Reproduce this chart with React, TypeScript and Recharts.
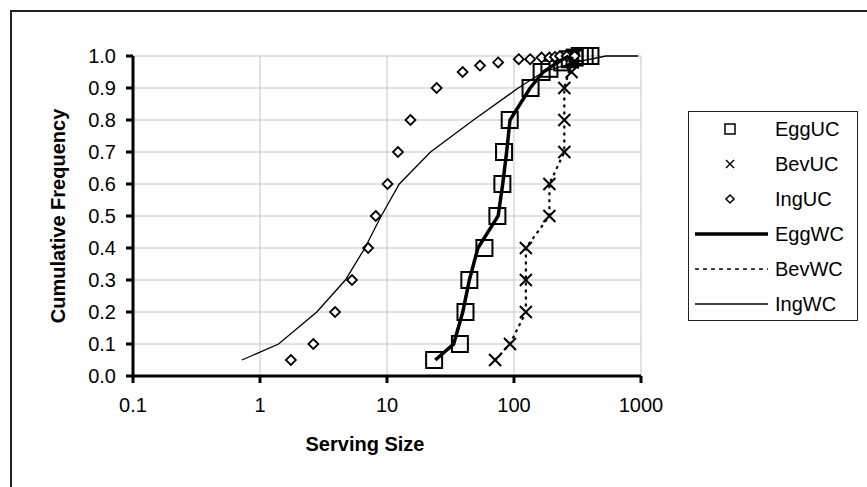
import React from 'react';
import { ScatterChart, Scatter, XAxis, YAxis, CartesianGrid, Legend } from 'recharts';

// cumulative frequency vs serving size
const eggUCx = [23.5, 37.5, 41.5, 44.5, 58.5, 74, 81, 83.5, 92.5, 135, 165, 190, 240, 275, 300, 330, 360, 400];
const eggUCy = [0.05, 0.1, 0.2, 0.3, 0.4, 0.5, 0.6, 0.7, 0.8, 0.9, 0.95, 0.96, 0.98, 0.99, 0.995, 1.0, 1.0, 1.0];

const bevUCx = [71, 93, 124, 124, 124, 190, 190, 249, 249, 249, 284, 290, 295, 300];
const bevUCy = [0.05, 0.1, 0.2, 0.3, 0.4, 0.5, 0.6, 0.7, 0.8, 0.9, 0.95, 0.98, 0.99, 1.0];

const ingUCx = [1.75, 2.63, 3.9, 5.3, 7.1, 8.15, 10.1, 12.2, 15.3, 24.6, 39.4, 54, 75, 109, 134, 165, 190, 210, 230, 260, 300];
const ingUCy = [0.05, 0.1, 0.2, 0.3, 0.4, 0.5, 0.6, 0.7, 0.8, 0.9, 0.95, 0.97, 0.98, 0.99, 0.99, 0.995, 0.995, 0.997, 1.0, 1.0, 1.0];

const eggWCx = [24, 33.5, 39.5, 44.5, 52, 75, 81.5, 87.5, 93, 134, 170, 220, 270];
const eggWCy = [0.05, 0.1, 0.2, 0.3, 0.4, 0.5, 0.6, 0.7, 0.8, 0.9, 0.95, 0.98, 1.0];

const bevWCx = [71, 93, 124, 124, 124, 190, 190, 249, 249, 249, 270, 290];
const bevWCy = [0.05, 0.1, 0.2, 0.3, 0.4, 0.5, 0.6, 0.7, 0.8, 0.9, 0.95, 1.0];

const ingWCx = [0.72, 1.4, 2.8, 4.7, 6.7, 9, 12.5, 22, 48, 108, 170, 300, 530, 950];
const ingWCy = [0.05, 0.1, 0.2, 0.3, 0.4, 0.5, 0.6, 0.7, 0.8, 0.9, 0.95, 0.98, 1.0, 1.0];

const xTicks = [0.1, 1, 10, 100, 1000];
const yTicks = [0, 0.1, 0.2, 0.3, 0.4, 0.5, 0.6, 0.7, 0.8, 0.9, 1.0];

const pts = (xs: number[], ys: number[]) => xs.map((x, i) => ({ x, y: ys[i] }));

const FONT = '"Liberation Sans", Arial, sans-serif';

const Square = ({ cx, cy, s = 16, w = 2 }: any) => (
  <rect x={cx - s / 2} y={cy - s / 2} width={s} height={s} fill="none" stroke="#000" strokeWidth={w} />
);
const Cross = ({ cx, cy, s = 12, w = 2 }: any) => (
  <g stroke="#000" strokeWidth={w}>
    <line x1={cx - s / 2} y1={cy - s / 2} x2={cx + s / 2} y2={cy + s / 2} />
    <line x1={cx - s / 2} y1={cy + s / 2} x2={cx + s / 2} y2={cy - s / 2} />
  </g>
);
const Diamond = ({ cx, cy, s = 10, w = 1.8 }: any) => (
  <polygon
    points={`${cx},${cy - s / 2} ${cx + s / 2},${cy} ${cx},${cy + s / 2} ${cx - s / 2},${cy}`}
    fill="#fff"
    stroke="#000"
    strokeWidth={w}
  />
);
const NoShape = () => <g />;

const legendItems = [
  { name: 'EggUC', kind: 'square' },
  { name: 'BevUC', kind: 'cross' },
  { name: 'IngUC', kind: 'diamond' },
  { name: 'EggWC', kind: 'line', width: 3.5, dash: undefined },
  { name: 'BevWC', kind: 'line', width: 1.5, dash: '4 4' },
  { name: 'IngWC', kind: 'line', width: 1.3, dash: undefined },
];

const renderLegend = () => (
  <svg width={170} height={210} style={{ display: 'block' }}>
    <rect x={0.5} y={0.5} width={169} height={209} fill="#fff" stroke="#222" strokeWidth={1} />
    {legendItems.map((it: any, i) => {
      const cy = 18 + i * 35;
      return (
        <g key={it.name}>
          {it.kind === 'square' && <Square cx={42} cy={cy} s={10} w={1.5} />}
          {it.kind === 'cross' && <Cross cx={42} cy={cy} s={8} w={1.5} />}
          {it.kind === 'diamond' && <Diamond cx={42} cy={cy} s={8} w={1.5} />}
          {it.kind === 'line' && (
            <line x1={7} y1={cy} x2={80} y2={cy} stroke="#000" strokeWidth={it.width} strokeDasharray={it.dash} />
          )}
          <text x={87} y={cy} dy="0.36em" fontSize={20} fontFamily={FONT} fill="#000">
            {it.name}
          </text>
        </g>
      );
    })}
  </svg>
);

export default function App() {
  return (
    <div style={{ position: 'absolute', left: 0, top: 0, width: 867, height: 487, background: '#fff' }}>
      {/* outer chart frame, only left and top edges show in the crop */}
      <div style={{ position: 'absolute', left: 10, top: 10, width: 857, height: 2, background: '#222' }} />
      <div style={{ position: 'absolute', left: 10, top: 10, width: 2, height: 477, background: '#222' }} />
      <ScatterChart
        width={867}
        height={487}
        margin={{ top: 56, right: 226, left: 43, bottom: 81 }}
        style={{ fontFamily: FONT }}
      >
        <CartesianGrid stroke="#c4c4c4" strokeWidth={1} />
        <XAxis
          type="number"
          dataKey="x"
          scale="log"
          domain={[0.1, 1000]}
          ticks={xTicks}
          tickFormatter={(v: number) => String(v)}
          tick={{ fontSize: 20, fill: '#000', fontFamily: FONT }}
          axisLine={{ stroke: '#000', strokeWidth: 3 }}
          tickLine={{ stroke: '#000', strokeWidth: 3 }}
          tickSize={7}
          tickMargin={15}
          height={30}
          label={{
            value: 'Serving Size',
            position: 'bottom',
            offset: 31,
            dx: -22,
            style: { fontSize: 20, fontWeight: 'bold', fill: '#000', fontFamily: FONT },
          }}
        />
        <YAxis
          type="number"
          dataKey="y"
          domain={[0, 1]}
          ticks={yTicks}
          tickFormatter={(v: number) => v.toFixed(1)}
          tick={{ fontSize: 20, fill: '#000', fontFamily: FONT }}
          axisLine={{ stroke: '#000', strokeWidth: 3 }}
          tickLine={{ stroke: '#000', strokeWidth: 3 }}
          tickSize={7}
          tickMargin={10}
          width={90}
          label={{
            value: 'Cumulative Frequency',
            angle: -90,
            position: 'insideLeft',
            offset: 15,
            style: { textAnchor: 'middle', fontSize: 20, fontWeight: 'bold', fill: '#000', fontFamily: FONT },
          }}
        />
        <Legend
          layout="vertical"
          align="center"
          verticalAlign="middle"
          content={renderLegend}
          wrapperStyle={{ position: 'absolute', left: 688, top: 111, width: 170, height: 210 }}
        />
        <Scatter name="EggUC" data={pts(eggUCx, eggUCy)} shape={(p: any) => <Square cx={p.cx} cy={p.cy} />} isAnimationActive={false} />
        <Scatter name="BevUC" data={pts(bevUCx, bevUCy)} shape={(p: any) => <Cross cx={p.cx} cy={p.cy} />} isAnimationActive={false} />
        <Scatter name="IngUC" data={pts(ingUCx, ingUCy)} shape={(p: any) => <Diamond cx={p.cx} cy={p.cy} />} isAnimationActive={false} />
        <Scatter name="EggWC" data={pts(eggWCx, eggWCy)} line={{ stroke: '#000', strokeWidth: 3.5 }} shape={NoShape} isAnimationActive={false} />
        <Scatter name="BevWC" data={pts(bevWCx, bevWCy)} line={{ stroke: '#000', strokeWidth: 2.2, strokeDasharray: '3 4' }} shape={NoShape} isAnimationActive={false} />
        <Scatter name="IngWC" data={pts(ingWCx, ingWCy)} line={{ stroke: '#000', strokeWidth: 1.3 }} shape={NoShape} isAnimationActive={false} />
      </ScatterChart>
    </div>
  );
}
